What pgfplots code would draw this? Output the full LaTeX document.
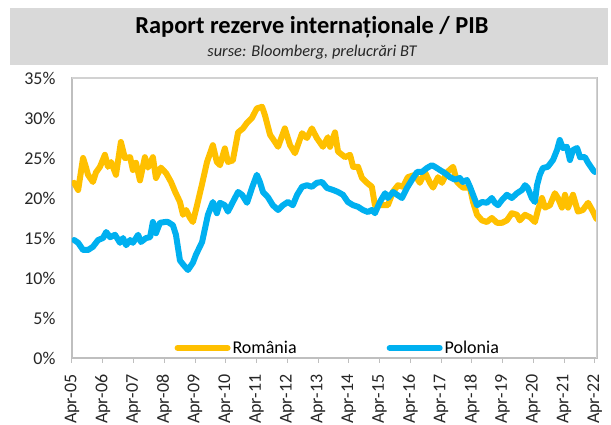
\documentclass[border=0pt]{standalone}
\usepackage{pgfplots}
\pgfplotsset{compat=1.18}
\usepackage{fontspec}
\setmainfont{Carlito}
\definecolor{romcol}{HTML}{FFC000}
\definecolor{polcol}{HTML}{00B0F0}
\definecolor{titlegray}{HTML}{D9D9D9}
\definecolor{axgray}{HTML}{BFBFBF}
\begin{document}
\begin{tikzpicture}
\begin{axis}[
  scale only axis,
  width=525pt, height=280pt,
  xmin=2005.25, xmax=2022.32,
  ymin=0, ymax=35,
  ytick={0,5,...,35},
  yticklabel={\pgfmathprintnumber{\tick}\%},
  /pgf/number format/assume math mode=true,
  xtick={2005.25,2006.25,2007.25,2008.25,2009.25,2010.25,2011.25,2012.25,2013.25,2014.25,2015.25,2016.25,2017.25,2018.25,2019.25,2020.25,2021.25,2022.25},
  xticklabels={Apr-05,Apr-06,Apr-07,Apr-08,Apr-09,Apr-10,Apr-11,Apr-12,Apr-13,Apr-14,Apr-15,Apr-16,Apr-17,Apr-18,Apr-19,Apr-20,Apr-21,Apr-22},
  xticklabel style={rotate=90, anchor=east, xshift=-8pt},
  yticklabel style={anchor=east, xshift=-8pt},
  ticklabel style={font=\fontsize{18}{20}\selectfont, text=black!85},
  xtick pos=bottom, ytick pos=left,
  tick align=outside,
  major tick length=5pt,
  ytick style={draw=none},
  xtick style={draw=axgray, line width=1pt},
  axis line style={draw=axgray, line width=1.3pt},
  legend columns=2,
  legend style={at={(rel axis cs:0.195,0.036)}, anchor=west, draw=none, fill=none,
    inner sep=0pt, font=\fontsize{18}{20}\selectfont,
    /tikz/every even column/.append style={column sep=88pt}},
  legend image code/.code={\draw[#1, line cap=round] (0pt,0pt) -- (50pt,0pt);},
]
\addplot[romcol, line width=6pt, line join=round, line cap=round] coordinates {
(2005.32,21.9) (2005.45,21.0) (2005.61,25.0) (2005.70,23.9) (2005.77,22.9) (2005.93,22.0)
(2006.03,23.2) (2006.16,23.9) (2006.32,25.4) (2006.42,23.9) (2006.52,24.5) (2006.68,22.9)
(2006.84,27.0) (2006.97,25.0) (2007.14,25.1) (2007.23,23.5) (2007.33,24.4) (2007.46,22.2)
(2007.62,25.1) (2007.72,23.8) (2007.88,25.1) (2007.98,22.5) (2008.14,23.8) (2008.31,23.1)
(2008.47,22.0) (2008.60,20.8) (2008.76,19.5) (2008.86,17.9) (2008.96,18.5) (2009.09,17.5)
(2009.18,17.0) (2009.31,19.0) (2009.47,21.6) (2009.64,24.5) (2009.74,25.6) (2009.83,26.6)
(2009.96,24.5) (2010.06,24.1) (2010.22,26.2) (2010.32,24.5) (2010.48,24.7) (2010.65,28.2)
(2010.81,28.7) (2010.94,29.4) (2011.10,30.0) (2011.26,31.2) (2011.43,31.4) (2011.52,30.4)
(2011.69,27.9) (2011.85,27.0) (2011.95,26.4) (2012.17,28.7) (2012.34,26.6) (2012.50,25.6)
(2012.73,28.1) (2012.89,27.5) (2013.05,28.7) (2013.21,27.5) (2013.41,26.4) (2013.57,27.6)
(2013.64,26.4) (2013.80,28.2) (2013.90,25.8) (2014.13,25.1) (2014.29,25.4) (2014.39,23.9)
(2014.55,23.9) (2014.68,22.5) (2014.84,21.9) (2015.00,21.4) (2015.10,19.1) (2015.26,19.1)
(2015.52,19.1) (2015.69,20.8) (2015.85,21.6) (2016.01,21.4) (2016.17,22.6) (2016.40,22.9)
(2016.56,21.9) (2016.73,23.2) (2016.89,21.9) (2016.99,21.3) (2017.15,22.6) (2017.28,21.9)
(2017.44,23.2) (2017.64,23.9) (2017.77,22.0) (2017.96,21.3) (2018.19,21.3) (2018.29,19.5)
(2018.42,17.9) (2018.58,17.2) (2018.74,17.0) (2018.90,17.5) (2019.07,16.9) (2019.23,16.9)
(2019.39,17.2) (2019.55,18.1) (2019.72,17.9) (2019.81,17.2) (2019.98,17.9) (2020.14,17.6)
(2020.30,17.0) (2020.40,18.5) (2020.53,20.0) (2020.63,18.8) (2020.79,19.1) (2020.95,20.6)
(2021.05,20.0) (2021.18,18.8) (2021.28,20.4) (2021.38,18.8) (2021.54,20.4) (2021.70,18.3)
(2021.86,18.5) (2022.03,19.4) (2022.19,18.3) (2022.30,17.4)
};
\addlegendentry{România}
\addplot[polcol, line width=6pt, line join=round, line cap=round] coordinates {
(2005.32,14.75) (2005.45,14.4) (2005.61,13.5) (2005.77,13.5) (2005.93,13.9) (2006.10,14.75)
(2006.26,15.0) (2006.36,15.75) (2006.49,15.1) (2006.65,15.4) (2006.81,14.4) (2006.91,15.0)
(2007.01,14.1) (2007.14,14.75) (2007.23,14.4) (2007.40,15.4) (2007.49,14.5) (2007.66,15.0)
(2007.79,15.1) (2007.88,17.0) (2007.98,15.6) (2008.11,16.9) (2008.27,17.0) (2008.37,17.0)
(2008.53,16.6) (2008.63,15.4) (2008.76,12.2) (2008.86,11.7) (2009.02,11.0) (2009.18,11.9)
(2009.28,12.9) (2009.48,14.5) (2009.67,17.9) (2009.83,19.5) (2009.96,18.1) (2010.06,19.4)
(2010.22,19.1) (2010.32,18.3) (2010.48,19.5) (2010.65,20.75) (2010.78,20.4) (2010.94,19.4)
(2011.10,21.25) (2011.26,22.9) (2011.36,22.0) (2011.46,20.75) (2011.62,20.1) (2011.78,19.1)
(2011.95,18.5) (2012.11,19.1) (2012.27,19.5) (2012.43,19.1) (2012.57,20.4) (2012.73,21.4)
(2012.89,21.6) (2013.05,21.4) (2013.21,21.9) (2013.38,22.0) (2013.54,21.25) (2013.74,21.0)
(2013.90,20.75) (2014.06,20.4) (2014.22,19.5) (2014.39,19.1) (2014.55,18.9) (2014.71,18.5)
(2014.87,18.25) (2015.00,18.5) (2015.10,18.1) (2015.26,19.5) (2015.43,20.6) (2015.52,20.0)
(2015.69,20.75) (2015.82,20.4) (2015.98,20.0) (2016.14,21.25) (2016.30,22.25) (2016.47,23.25)
(2016.63,23.25) (2016.79,23.75) (2016.95,24.1) (2017.05,23.9) (2017.21,23.5) (2017.38,23.1)
(2017.54,22.6) (2017.70,22.3) (2017.86,22.5) (2017.96,22.0) (2018.09,22.25) (2018.19,21.4)
(2018.29,20.4) (2018.42,19.1) (2018.58,19.5) (2018.74,19.4) (2018.90,20.0) (2019.00,19.4)
(2019.10,19.1) (2019.23,19.75) (2019.39,20.4) (2019.55,20.0) (2019.72,20.6) (2019.88,21.0)
(2019.98,21.6) (2020.07,21.25) (2020.20,20.0) (2020.30,19.5) (2020.37,21.6) (2020.46,22.9)
(2020.56,23.75) (2020.72,23.9) (2020.89,24.75) (2021.02,26.0) (2021.11,27.25) (2021.21,26.25)
(2021.34,26.4) (2021.44,24.75) (2021.54,26.0) (2021.67,26.25) (2021.77,25.1) (2021.93,25.1)
(2022.03,24.4) (2022.19,23.5) (2022.25,23.25)
};
\addlegendentry{Polonia}
\coordinate (sw) at (rel axis cs:0,0);
\coordinate (nw) at (rel axis cs:0,1);
\coordinate (ne) at (rel axis cs:1,1);
\draw[axgray!70, line width=1.3pt] (nw) -- (ne) -- (rel axis cs:1,0);
\end{axis}
\fill[titlegray] ([shift={(-62pt,13pt)}]nw) rectangle ([shift={(11pt,70pt)}]ne);
\node[font=\bfseries\fontsize{24.4}{28}\selectfont, text=black] at ([shift={(240pt,51pt)}]nw) {Raport rezerve internaționale / PIB};
\node[font=\itshape\fontsize{16.4}{19}\selectfont, text=black!85] at ([shift={(240pt,26pt)}]nw) {surse: Bloomberg, prelucrări BT};
\pgfresetboundingbox
\useasboundingbox ([shift={(-72pt,-67pt)}]sw) rectangle ([shift={(14pt,78pt)}]ne);
\end{tikzpicture}
\end{document}
